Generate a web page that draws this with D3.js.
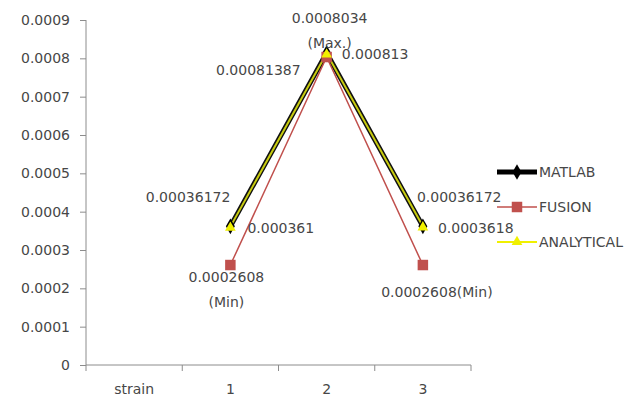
<!DOCTYPE html>
<html>
  <head>
    <script src="https://d3js.org/d3.v7.min.js"></script>
  </head>
  <style>
    body { margin: 0; background-color: white; }
    text { font-family: "DejaVu Sans", sans-serif; font-size: 14px; fill: #474747; }
  </style>
  <body>
    <div id="chart"></div>
    <script>

    // chart data
    var categories = ["strain", "1", "2", "3"];
    var matlab = [null, 0.00036172, 0.00081387, 0.00036172];
    var fusion = [null, 0.0002608, 0.0008034, 0.0002608];
    var analytical = [null, 0.000361, 0.000813, 0.0003618];
    var yTicks = [0, 0.0001, 0.0002, 0.0003, 0.0004, 0.0005, 0.0006, 0.0007, 0.0008, 0.0009];
    var seriesNames = ["MATLAB", "FUSION", "ANALYTICAL"];

    // data label texts (one per point, lines split by |)
    var matlabLabels = [null, "0.00036172", "0.00081387", "0.00036172"];
    var fusionLabels = [null, "0.0002608|(Min)", "0.0008034|(Max.)", "0.0002608(Min)"];
    var analyticalLabels = [null, "0.000361", "0.000813", "0.0003618"];

    var width = 638, height = 403;

    var svg = d3.select("#chart").append("svg")
        .attr("width", width)
        .attr("height", height);

    var x = d3.scaleBand().domain(categories).range([86, 471]);
    var y = d3.scaleLinear().domain([0, 0.0009]).range([365, 20]);
    var cx = function(c) { return x(c) + x.bandwidth() / 2; };

    // y axis
    var yAxis = svg.append("g")
        .attr("transform", "translate(86,0)")
        .call(d3.axisLeft(y).tickValues(yTicks).tickSize(6).tickPadding(10)
              .tickFormat(function(d) { return d === 0 ? "0" : d.toFixed(4); }));
    yAxis.selectAll("path, line").attr("stroke", "#8c8c8c");
    yAxis.select(".domain").attr("d", "M0,20V365");
    yAxis.selectAll("text").style("font-size", "14px").attr("fill", "#474747");

    // x axis
    var xAxis = svg.append("g")
        .attr("transform", "translate(0,365)")
        .call(d3.axisBottom(x).tickSize(0).tickPadding(19));
    xAxis.selectAll("path").attr("stroke", "#8c8c8c").attr("d", "M86,0H471");
    xAxis.selectAll("text").style("font-size", "14px").attr("fill", "#474747");
    // category boundary ticks
    xAxis.selectAll(".sep")
        .data(categories.concat(["end"]))
        .enter().append("line")
          .attr("x1", function(d, i) { return 86 + i * x.bandwidth(); })
          .attr("x2", function(d, i) { return 86 + i * x.bandwidth(); })
          .attr("y1", 0).attr("y2", 6)
          .attr("stroke", "#8c8c8c");

    function pts(vals) {
      return vals.map(function(v, i) { return {c: categories[i], v: v}; })
                 .filter(function(d) { return d.v !== null; });
    }

    var line = d3.line()
        .x(function(d) { return cx(d.c); })
        .y(function(d) { return y(d.v); });

    // MATLAB: heavy black line with diamonds
    svg.append("path").datum(pts(matlab))
        .attr("d", line).attr("fill", "none")
        .attr("stroke", "#111").attr("stroke-width", 5);
    // FUSION: thin red line with squares
    svg.append("path").datum(pts(fusion))
        .attr("d", line).attr("fill", "none")
        .attr("stroke", "#c0504d").attr("stroke-width", 1.5);
    // ANALYTICAL: yellow line on top of black
    svg.append("path").datum(pts(analytical))
        .attr("d", line).attr("fill", "none")
        .attr("stroke", "#c8cc10").attr("stroke-width", 2);

    var diamond = d3.symbol().type(d3.symbolDiamond).size(70);
    var square = d3.symbol().type(d3.symbolSquare).size(110);
    var triangle = d3.symbol().type(d3.symbolTriangle).size(50);

    svg.selectAll(".mm").data(pts(matlab)).enter().append("path")
        .attr("d", diamond).attr("fill", "#000")
        .attr("transform", function(d) { return "translate(" + cx(d.c) + "," + y(d.v) + ")"; });
    svg.selectAll(".fm").data(pts(fusion)).enter().append("path")
        .attr("d", square).attr("fill", "#c0504d")
        .attr("transform", function(d) { return "translate(" + cx(d.c) + "," + y(d.v) + ")"; });
    svg.selectAll(".am").data(pts(analytical)).enter().append("path")
        .attr("d", triangle).attr("fill", "#f0f000")
        .attr("transform", function(d) { return "translate(" + cx(d.c) + "," + (y(d.v) + 1) + ")"; });

    // data labels: offsets from the point [dx, dy, anchor]
    var matlabPos = [null, [0, -24, "end"], [-26, 22, "end"], [-6, -24, "start"]];
    var fusionPos = [null, [-4, 17, "middle"], [3, -34, "middle"], [14, 32, "middle"]];
    var analyticalPos = [null, [17, 6, "start"], [15, 6, "start"], [15, 7, "start"]];

    function labels(vals, texts, pos) {
      vals.forEach(function(v, i) {
        if (v === null) return;
        var t = svg.append("text")
            .attr("x", cx(categories[i]) + pos[i][0])
            .attr("y", y(v) + pos[i][1])
            .attr("text-anchor", pos[i][2]);
        texts[i].split("|").forEach(function(s, k) {
          t.append("tspan")
            .attr("x", cx(categories[i]) + pos[i][0])
            .attr("dy", k === 0 ? 0 : 25)
            .text(s);
        });
      });
    }
    labels(matlab, matlabLabels, matlabPos);
    labels(fusion, fusionLabels, fusionPos);
    labels(analytical, analyticalLabels, analyticalPos);

    // legend
    var legend = svg.append("g").attr("transform", "translate(497,172)");
    var legStyles = [
      {stroke: "#000", sw: 5, sym: diamond, fill: "#000"},
      {stroke: "#c0504d", sw: 1.5, sym: square, fill: "#c0504d"},
      {stroke: "#f0f000", sw: 2, sym: triangle, fill: "#f0f000"}
    ];
    seriesNames.forEach(function(name, i) {
      var g = legend.append("g").attr("transform", "translate(0," + (i * 35) + ")");
      g.append("line").attr("x1", 0).attr("x2", 40)
        .attr("stroke", legStyles[i].stroke).attr("stroke-width", legStyles[i].sw);
      g.append("path").attr("d", legStyles[i].sym).attr("fill", legStyles[i].fill)
        .attr("transform", "translate(20,0)");
      g.append("text").attr("x", 42).attr("y", 5).text(name);
    });

    </script>
  </body>
</html>
